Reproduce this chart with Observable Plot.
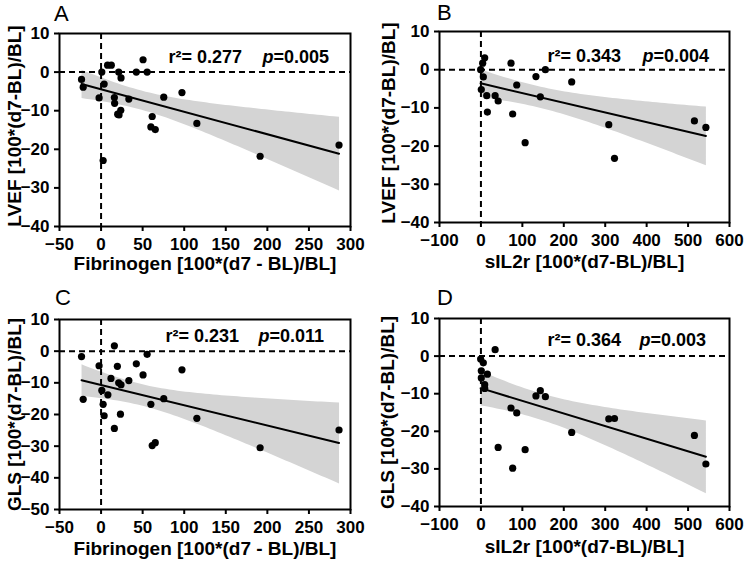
<!DOCTYPE html>
<html><head><meta charset="utf-8">
<script src="https://cdn.jsdelivr.net/npm/d3@7"></script>
<script src="https://cdn.jsdelivr.net/npm/@observablehq/plot@0.6"></script>
<style>
body{margin:0;background:#fff;font-family:"Liberation Sans",Arial,sans-serif;}
#wrap{position:relative;width:744px;height:566px;overflow:hidden;background:#fff}
.panel{position:absolute;width:372px;height:283px}
.letter{position:absolute;font-size:22px;color:#000;line-height:1}
</style></head><body>
<div id="wrap"></div>
<script>
// Panel A: Fibrinogen vs LVEF
const fibrinogenA = [-23.5,-21.5,-2.4,0.9,3.7,2.5,7.8,12.3,16,16.3,20,21.6,21.2,24,23.7,33.4,42.4,50.5,55.4,61.5,59.9,65.2,75.4,97.3,115.2,191.3,286.2];
const lvefA       = [-1.9,-3.9,-6.7,0,-3.1,-22.9,1.8,1.8,-6.6,-8.1,-10.9,-11.1,0,-1.5,-9.9,-7.0,0,3.2,0,-11.5,-14.2,-14.9,-6.5,-5.3,-13.3,-21.8,-18.9];
// Panel B: sIL2r vs LVEF
const sil2rB = [-0.7,0.9,4.2,9.1,5.8,14,15.6,34.3,41.6,72.6,76.6,86.4,106.7,132.8,143.4,155.6,219.1,308.6,322.4,515.3,543];
const lvefB  = [0,-5.2,1.7,3.1,-1.9,-6.8,-11.1,-6.8,-8.2,1.7,-11.6,-4.0,-19.1,-1.8,-7.1,0,-3.2,-14.4,-23.2,-13.4,-15.1];
// Panel C: Fibrinogen vs GLS
const fibrinogenC = [-23.5,-21.5,-2.4,0.9,2.5,3.7,16,11.9,8.2,16,19.6,21.2,24,23.3,33.4,42.4,50.5,55.4,59.9,61.5,65.2,75.4,97.3,115.2,191.3,286.2];
const glsC        = [-1.7,-15.2,-4.6,-12.4,-16.8,-20.4,1.7,-8.6,-13.8,-24.4,-4.8,-10.0,-10.6,-19.9,-9.3,-4.0,-7.5,-1.0,-16.8,-29.8,-28.9,-15.0,-5.9,-21.2,-30.5,-24.9];
// Panel D: sIL2r vs GLS
const sil2rD = [-0.7,5.8,0.9,0.9,9.1,9.1,15.6,34.3,41.6,72.6,76.6,86.4,106.7,132.8,143.4,155.6,219.1,308.6,322.4,515.3,543];
const glsD   = [-0.8,-1.8,-3.9,-5.8,-7.6,-8.6,-4.8,1.7,-24.3,-13.8,-29.8,-15.1,-24.9,-10.6,-9.2,-10.8,-20.3,-16.7,-16.6,-21.1,-28.7];

const fibTicks = [-50,0,50,100,150,200,250,300];
const silTicks = [-100,0,100,200,300,400,500,600];
const yTicks40 = [-40,-30,-20,-10,0,10];
const yTicks50 = [-50,-40,-30,-20,-10,0,10];

const letters = ["A","B","C","D"];
const xLabels = ["Fibrinogen [100*(d7 - BL)/BL]","sIL2r [100*(d7-BL)/BL]","Fibrinogen [100*(d7 - BL)/BL]","sIL2r [100*(d7-BL)/BL]"];
const yLabels = ["LVEF [100*(d7-BL)/BL]","LVEF [100*(d7-BL)/BL]","GLS [100*(d7-BL)/BL]","GLS [100*(d7-BL)/BL]"];
const r2Values = ["0.277","0.343","0.231","0.364"];
const pValues = ["0.005","0.004","0.011","0.003"];

const panels = [
  {x: fibrinogenA, y: lvefA, xd: [-50,300], xt: fibTicks, yd: [-40,10], yt: yTicks40, m:[33,22,57,59], left:0, top:0,
   lab:{dx:-45, dy:-4, xdy:37}, ann:{dx:109, dy:24, pdx:203}, let:{x:54, y:3}},
  {x: sil2rB, y: lvefB, xd: [-100,600], xt: silTicks, yd: [-40,10], yt: yTicks40, m:[31,15,61,67], left:372, top:0,
   lab:{dx:-51, dy:-4, xdy:39}, ann:{dx:108, dy:25, pdx:203}, let:{x:437, y:2}},
  {x: fibrinogenC, y: glsC, xd: [-50,300], xt: fibTicks, yd: [-50,10], yt: yTicks50, m:[36,22,57,59], left:0, top:283,
   lab:{dx:-45, dy:0, xdy:39}, ann:{dx:106, dy:17, pdx:199}, let:{x:55, y:287}},
  {x: sil2rD, y: glsD, xd: [-100,600], xt: silTicks, yd: [-40,10], yt: yTicks40, m:[35,15,60,67], left:372, top:283,
   lab:{dx:-52, dy:0, xdy:40}, ann:{dx:108, dy:22, pdx:200}, let:{x:437, y:287}}
];

const wrap = document.getElementById("wrap");
panels.forEach((P, i) => {
  const data = P.x.map((v, j) => ({x: v, y: P.y[j]}));
  const [mt, mr, mb, ml] = P.m;
  const chart = Plot.plot({
    width: 372, height: 283,
    marginTop: mt, marginRight: mr, marginBottom: mb, marginLeft: ml,
    style: {fontFamily: "'Liberation Sans', Arial, sans-serif", fontWeight: "bold", color: "black", background: "white", overflow: "visible"},
    x: {domain: P.xd},
    y: {domain: P.yd},
    marks: [
      Plot.linearRegressionY(data, {x: "x", y: "y", stroke: "black", strokeWidth: 2, fill: "#d4d4d4", fillOpacity: 1, ci: 0.95}),
      Plot.ruleY([0], {stroke: "black", strokeWidth: 2, strokeDasharray: "6,4"}),
      Plot.ruleX([0], {stroke: "black", strokeWidth: 2, strokeDasharray: "6,4"}),
      Plot.dot(data, {x: "x", y: "y", r: 3.6, fill: "black"}),
      Plot.frame({stroke: "black", strokeWidth: 2}),
      Plot.axisX(P.xt, {tickSize: 5, tickPadding: 6, strokeWidth: 2, fontSize: 17, label: null}),
      Plot.axisY(P.yt, {tickSize: 5, tickPadding: 5, strokeWidth: 2, fontSize: 17, label: null}),
      Plot.text([xLabels[i]], {text: d => d, frameAnchor: "bottom", dy: P.lab.xdy, textAnchor: "middle", lineAnchor: "middle", fontSize: 19}),
      Plot.text([yLabels[i]], {text: d => d, frameAnchor: "left", dx: P.lab.dx, dy: P.lab.dy, rotate: -90, textAnchor: "middle", lineAnchor: "middle", fontSize: 19}),
      Plot.text(["r\u00B2= " + r2Values[i]], {text: d => d, frameAnchor: "top-left", dx: P.ann.dx, dy: P.ann.dy, textAnchor: "start", lineAnchor: "middle", fontSize: 18}),
      Plot.text(["p"], {text: d => d, frameAnchor: "top-left", dx: P.ann.pdx, dy: P.ann.dy, textAnchor: "start", lineAnchor: "middle", fontSize: 18, fontStyle: "italic"}),
      Plot.text(["=" + pValues[i]], {text: d => d, frameAnchor: "top-left", dx: P.ann.pdx + 11, dy: P.ann.dy, textAnchor: "start", lineAnchor: "middle", fontSize: 18})
    ]
  });
  const div = document.createElement("div");
  div.className = "panel";
  div.style.left = P.left + "px";
  div.style.top = P.top + "px";
  div.appendChild(chart);
  wrap.appendChild(div);
  const L = document.createElement("div");
  L.className = "letter";
  L.textContent = letters[i];
  L.style.left = P.let.x + "px";
  L.style.top = P.let.y + "px";
  wrap.appendChild(L);
});
</script>
</body></html>
